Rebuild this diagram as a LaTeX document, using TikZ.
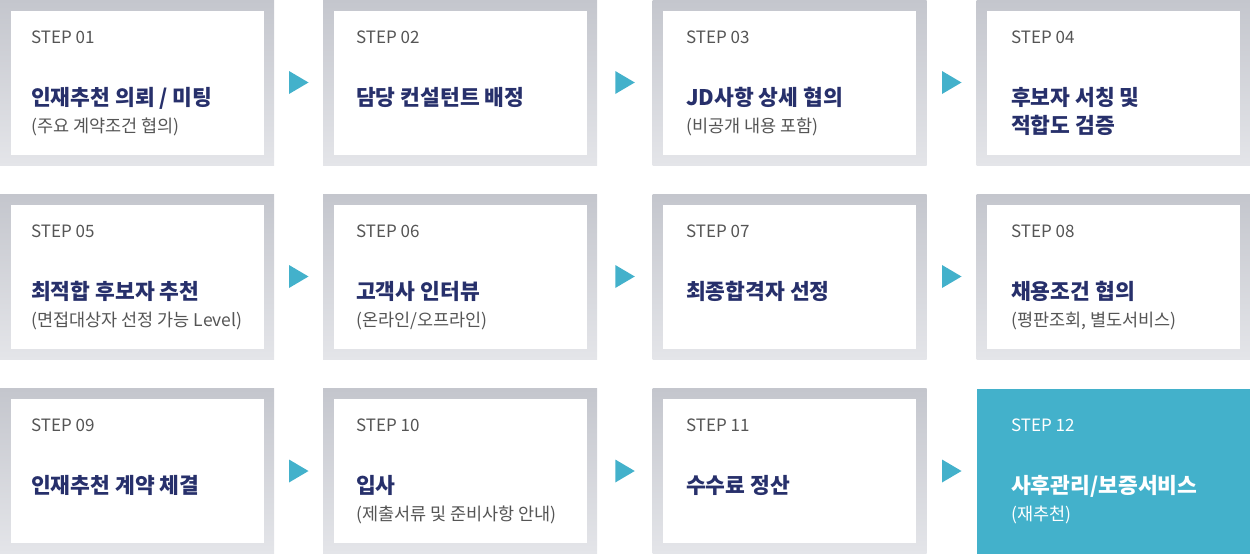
\documentclass[tikz,border=0pt]{standalone}
\usepackage{fontspec}
\setmainfont{Noto Sans CJK KR}
\usetikzlibrary{calc}
\definecolor{framet}{HTML}{C4C6CD}
\definecolor{frameb}{HTML}{E4E5E9}
\definecolor{navy}{HTML}{27306B}
\definecolor{txtgray}{HTML}{555555}
\definecolor{accent}{HTML}{43B1CB}
\tikzset{
  frame/.style={anchor=north west, minimum width=274pt, minimum height=165pt, inner sep=0pt, outer sep=0pt, top color=framet, bottom color=frameb, draw=none},
  tealframe/.style={anchor=north west, minimum width=274pt, minimum height=165pt, inner sep=0pt, outer sep=0pt, fill=accent, draw=none},
  steplbl/.style={anchor=base west, inner sep=0pt, font=\fontsize{17}{17}\selectfont, text=txtgray},
  ttl/.style={anchor=base west, inner sep=0pt, font=\fontsize{21.5}{28}\selectfont\bfseries, text=navy, align=left},
  sublbl/.style={anchor=base west, inner sep=0pt, font=\fontsize{17.5}{17.5}\selectfont, text=txtgray},
  arrowtri/.style={fill=accent}
}
% name, x, y, textx, step, title, subtitle
\newcommand\StepBox[7]{%
  \node[frame] (#1) at (#2,#3) {};
  \fill[white] ($(#1.north west)+(10.5,10.5)$) rectangle ($(#1.south east)+(-10.5,-10.5)$);
  \node[steplbl] (#1s) at (#4,#3+43) {#5};
  \node[ttl] (#1t) at (#4,#3+105) {#6};
  \node[sublbl] (#1u) at (#4,#3+132) {#7};
}
\newcommand\Tri[3]{% name, left box, right box
  \coordinate (#1) at ($(#2.east)!0.5!(#3.west)$);
  \fill[arrowtri] ($(#1)+(-9.5,-11.5)$) -- ($(#1)+(10,0)$) -- ($(#1)+(-9.5,11.5)$) -- cycle;
}
\begin{document}
\begin{tikzpicture}[x=1pt,y=-1pt]
\useasboundingbox (0,0) rectangle (1250,554);
% row 1
\StepBox{b1}{0}{0}{31}{STEP 01}{인재추천 의뢰 / 미팅}{(주요 계약조건 협의)}
\StepBox{b2}{323}{0}{356}{STEP 02}{담당 컨설턴트 배정}{}
\StepBox{b3}{652.5}{0}{686}{STEP 03}{JD사항 상세 협의}{(비공개 내용 포함)}
\node[frame] (b4) at (976.5,0) {};
\fill[white] ($(b4.north west)+(10.5,10.5)$) rectangle ($(b4.south east)+(-10.5,-10.5)$);
\node[steplbl] (b4s) at (1011,43) {STEP 04};
\node[ttl] (b4t) at (1011,105) {후보자 서칭 및};
\node[ttl] (b4t2) at (1011,133) {적합도 검증};
% row 2
\StepBox{b5}{0}{194}{31}{STEP 05}{최적합 후보자 추천}{(면접대상자 선정 가능 Level)}
\StepBox{b6}{323}{194}{356}{STEP 06}{고객사 인터뷰}{(온라인/오프라인)}
\StepBox{b7}{652.5}{194}{686}{STEP 07}{최종합격자 선정}{}
\StepBox{b8}{976.5}{194}{1011}{STEP 08}{채용조건 협의}{(평판조회, 별도서비스)}
% row 3
\StepBox{b9}{0}{388.5}{31}{STEP 09}{인재추천 계약 체결}{}
\StepBox{b10}{323}{388.5}{356}{STEP 10}{입사}{(제출서류 및 준비사항 안내)}
\StepBox{b11}{652.5}{388.5}{686}{STEP 11}{수수료 정산}{}
\node[tealframe] (b12) at (976.5,388.5) {};
\node[steplbl, text=white] (b12s) at (1011,388.5+43) {STEP 12};
\node[ttl, text=white] (b12t) at (1011,388.5+105) {사후관리/보증서비스};
\node[sublbl, text=white] (b12u) at (1011,388.5+132) {(재추천)};
% arrows
\Tri{a1}{b1}{b2}
\Tri{a2}{b2}{b3}
\Tri{a3}{b3}{b4}
\Tri{a5}{b5}{b6}
\Tri{a6}{b6}{b7}
\Tri{a7}{b7}{b8}
\Tri{a9}{b9}{b10}
\Tri{a10}{b10}{b11}
\Tri{a11}{b11}{b12}
\end{tikzpicture}
\end{document}
